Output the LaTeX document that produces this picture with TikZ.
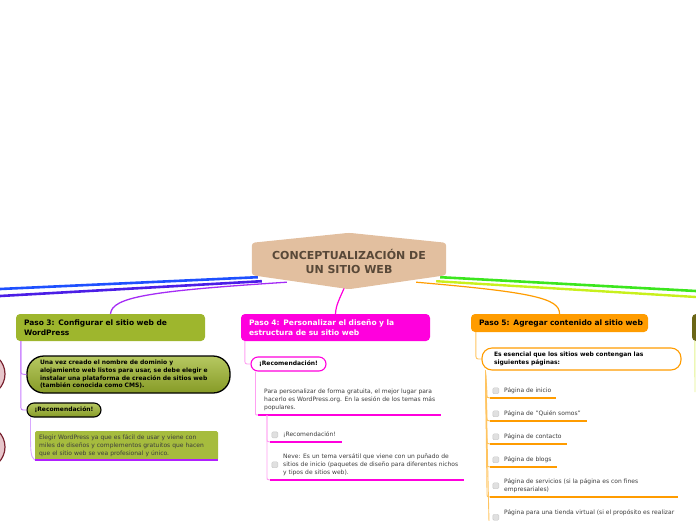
\documentclass[tikz,border=0pt]{standalone}
\usepackage{fontspec}
\setmainfont{DejaVu Sans}
\usetikzlibrary{positioning}
\definecolor{topicfill}{RGB}{226,191,159}
\definecolor{topictext}{RGB}{88,72,56}
\definecolor{stepgreen}{RGB}{158,182,45}
\definecolor{stepmagenta}{RGB}{255,0,221}
\definecolor{steporange}{RGB}{255,156,0}
\definecolor{stepolive}{RGB}{107,102,22}
\definecolor{linkblue}{RGB}{30,80,255}
\definecolor{linkindigo}{RGB}{75,30,230}
\definecolor{linkpurple}{RGB}{165,44,245}
\definecolor{linkgreen}{RGB}{60,230,30}
\definecolor{linklime}{RGB}{200,240,28}
\definecolor{lineviolet}{RGB}{176,32,255}
\definecolor{twigpurple}{RGB}{200,125,255}
\definecolor{twiglilac}{RGB}{216,168,255}
\definecolor{twigpink}{RGB}{255,160,242}
\definecolor{twigorange}{RGB}{255,196,96}
\definecolor{twiglime}{RGB}{226,242,140}
\definecolor{ringred}{RGB}{122,35,49}
\definecolor{ringfill}{RGB}{231,198,203}
\definecolor{leafgray}{RGB}{60,60,60}

\begin{document}
\begin{tikzpicture}[x=1pt,y=-1pt,every node/.style={font=\fontsize{6}{8}\selectfont},
  stepbox/.style={rounded corners=4pt,inner xsep=8pt,inner ysep=0pt,align=left,
    font=\fontsize{7.5}{9.5}\selectfont\bfseries},
  pill/.style={draw,rounded corners=7pt,line width=1.1pt,inner sep=0pt,align=left,
    font=\fontsize{6}{7.6}\selectfont\bfseries},
  leaf/.style={anchor=south west,inner xsep=0pt,inner ysep=4pt,align=left,text=leafgray},
  uline/.style={line width=2.4pt},
  twig/.style={line width=0.9pt},
  chk/.style={draw=black!22,fill=black!12,rounded corners=1.2pt,minimum size=6pt,inner sep=0pt}]
\useasboundingbox (0,0) rectangle (696,520);

% central topic and main steps
\node[minimum width=194pt,minimum height=32pt,inner sep=0pt] (topic) at (349,259) {};
\coordinate (westA) at (0,289);
\coordinate (westB) at (0,296);
\coordinate (eastA) at (696,291);
\coordinate (eastB) at (696,297);

\node[stepbox,fill=stepgreen,minimum width=189pt,minimum height=27pt,text width=173pt] (p3) at (110.5,327.5) {Paso 3: Configurar el sitio web de\\WordPress};
\node[stepbox,fill=stepmagenta,text=white,minimum width=189pt,minimum height=27pt,text width=173pt] (p4) at (335.5,327.5) {Paso 4: Personalizar el diseño y la\\estructura de su sitio web};
\node[stepbox,fill=steporange,minimum width=177pt,minimum height=18pt,text width=169pt,inner xsep=4pt] (p5) at (559.5,323) {\hspace*{4pt}Paso 5: Agregar contenido al sitio web};
\node[stepbox,fill=stepolive,minimum width=40pt,minimum height=27pt] (p6) at (712,327.5) {};

\draw[linkblue,line width=2.6pt] ([shift={(6,2)}]topic.south west) -- (westA);
\draw[linkindigo,line width=2.6pt] ([shift={(10,6)}]topic.south west) -- (westB);
\draw[linkgreen,line width=2.6pt] ([shift={(-6,2)}]topic.south east) -- (eastA);
\draw[linklime,line width=2.4pt] ([shift={(-10,6)}]topic.south east) -- (eastB);
\draw[linkpurple,line width=1.3pt] ([shift={(35,7)}]topic.south west) .. controls (150,291) and (112,297) .. (p3.north);
\draw[stepmagenta,line width=1.2pt] ([shift={(-4,11)}]topic.south) .. controls (339,300) and (336,305) .. (p4.north);
\draw[steporange,line width=1.2pt] ([shift={(-30,7)}]topic.south east) .. controls (530,292) and (560,298) .. (p5.north);

\fill[topicfill,rounded corners=3pt] (topic.north west) -- ([yshift=10pt]topic.north) -- (topic.north east)
  -- (topic.south east) -- ([yshift=-14pt]topic.south) -- (topic.south west) -- cycle;
\node[font=\fontsize{11}{13.5}\selectfont\bfseries,text=topictext,align=center] (topiclabel) at ([yshift=-2.5pt]topic.center) {CONCEPTUALIZACIÓN DE\\UN SITIO WEB};

% step 2 (cut off at the left)
\node[circle,draw=ringred,line width=1.2pt,fill=ringfill,minimum size=44pt] (ring1) at (-17,374) {};
\node[circle,draw=ringred,line width=1.2pt,fill=ringfill,minimum size=44pt] (ring2) at (-17,447) {};

% step 3
\node[pill,rounded corners=17pt,line width=1.3pt,top color=stepgreen!75!white,bottom color=stepgreen!85!black,
  minimum width=203pt,minimum height=37pt,text width=177pt,inner xsep=13pt] (n31) at (128.5,374.5)
  {Una vez creado el nombre de dominio y\\alojamiento web listos para usar, se debe elegir e\\instalar una plataforma de creación de sitios web\\(también conocida como CMS).};
\node[pill,top color=stepgreen!75!white,bottom color=stepgreen!85!black,minimum width=74pt,minimum height=14pt,align=center] (r3) at (64,410) {¡Recomendación!};
\node[fill=stepgreen!92!white,rounded corners=1.5pt,minimum width=183pt,minimum height=29pt,text width=175pt,
  inner xsep=4pt,inner ysep=0pt,align=left,text=leafgray,font=\fontsize{6}{8}\selectfont] (n32) at (126.5,445.5)
  {Elegir WordPress ya que es fácil de usar y viene con\\miles de diseños y complementos gratuitos que hacen\\que el sitio web se vea profesional y único.};
\draw[twig,twigpurple] ([xshift=5pt]p3.south west) -- ([xshift=5pt,yshift=-28pt]p3.south west) .. controls ([xshift=5pt,yshift=-33pt]p3.south west) .. (n31.west);
\draw[twig,twigpurple] ([xshift=5pt]p3.south west) -- ([xshift=5pt,yshift=-63pt]p3.south west) .. controls ([xshift=5pt,yshift=-69pt]p3.south west) .. (r3.west);
\draw[twig,twiglilac] ([xshift=4pt]r3.south west) .. controls ([xshift=4pt,yshift=-38pt]r3.south west) .. (n32.south west);
\draw[uline,lineviolet] (n32.south west) -- (n32.south east);

% step 4
\node[pill,draw=stepmagenta,fill=white,minimum width=75pt,minimum height=14pt,align=center] (r4) at (288.5,364) {¡Recomendación!};
\node[leaf] (t41) at (264,415) {Para personalizar de forma gratuita, el mejor lugar para\\hacerlo es WordPress.org. En la sesión de los temas más\\populares.};
\node[leaf] (t42) at (283,442) {¡Recomendación!};
\node[leaf] (t43) at (283,480) {Neve: Es un tema versátil que viene con un puñado de\\sitios de inicio (paquetes de diseño para diferentes nichos\\y tipos de sitios web).};
\node[chk,left=5pt of t42.west] (c42) {};
\node[chk,left=5pt of t43.west] (c43) {};
\draw[twig,twigpink] ([xshift=4pt]p4.south west) -- ([xshift=4pt,yshift=-17pt]p4.south west) .. controls ([xshift=4pt,yshift=-23pt]p4.south west) .. (r4.west);
\draw[twig,twigpink] ([xshift=5pt]r4.south west) -- ([xshift=5pt,yshift=-38pt]r4.south west) .. controls ([xshift=5pt,yshift=-44pt]r4.south west) .. ([xshift=-6pt]t41.south west);
\draw[uline,stepmagenta] ([xshift=-6pt]t41.south west) -- ([xshift=6pt]t41.south east);
\foreach \t in {t42,t43} {
  \draw[twig,twigpink] ([xshift=3pt]t41.south west) -- ([xshift=-16pt,yshift=5pt]\t.south west) .. controls ([xshift=-16pt]\t.south west) .. ([xshift=-13pt]\t.south west);
  \draw[uline,stepmagenta] ([xshift=-13pt]\t.south west) -- ([xshift=6pt]\t.south east);
}

% step 5
\node[pill,draw=steporange,fill=white,rounded corners=10pt,minimum width=199pt,minimum height=22pt,text width=179pt,inner xsep=10pt] (r5) at (581.5,359) {\hspace*{2pt}Es esencial que los sitios web contengan las\\\hspace*{2pt}siguientes páginas:};
\node[leaf] (t51) at (504,398) {Página de inicio};
\node[leaf] (t52) at (504,421) {Página de "Quién somos"};
\node[leaf] (t53) at (504,444) {Página de contacto};
\node[leaf] (t54) at (504,467) {Página de blogs};
\node[leaf] (t55) at (504,497) {Página de servicios (si la página es con fines\\empresariales)};
\node[leaf] (t56) at (504,519.5) {Página para una tienda virtual (si el propósito es realizar};
\coordinate (trunk5) at (489,522);
\draw[twig,twigorange] ([xshift=5pt]p5.south west) -- ([xshift=5pt,yshift=-20pt]p5.south west) .. controls ([xshift=5pt,yshift=-27pt]p5.south west) .. (r5.west);
\draw[twig,twigorange] ([xshift=4pt]r5.south west) -- (trunk5);
\foreach \t/\e in {t51/5,t52/6,t53/5,t54/5,t55/40} {
  \node[chk,left=5pt of \t.west] (c\t) {};
  \draw[twig,twigorange] ([xshift=4pt]r5.south west) -- ([xshift=-17pt,yshift=5pt]\t.south west) .. controls ([xshift=-17pt]\t.south west) .. ([xshift=-14pt]\t.south west);
  \draw[uline,steporange] ([xshift=-14pt]\t.south west) -- ([xshift=\e pt]\t.south east);
}
\node[chk,left=5pt of t56.west,yshift=-5pt] (ct56) {};

% step 6 (cut off at the right)
\coordinate (p6end) at (695,392);
\draw[twig,twiglime] ([xshift=3pt]p6.south west) -- (p6end);
\end{tikzpicture}
\end{document}
